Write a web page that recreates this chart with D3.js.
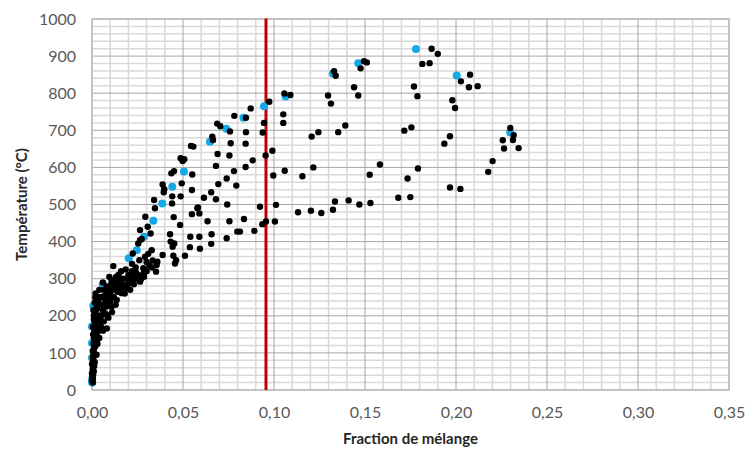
<!DOCTYPE html>
<html><head><meta charset="utf-8">
<script src="https://cdn.jsdelivr.net/npm/d3@7"></script>
<style>
html,body{margin:0;padding:0;background:#fff;}
svg{display:block;font-family:"Lato","Open Sans",sans-serif;}
</style></head>
<body><svg id="c" width="749" height="449"></svg>
<script>
const xTicks = [0,0.05,0.10,0.15,0.20,0.25,0.30,0.35];
const yTicks = [0,100,200,300,400,500,600,700,800,900,1000];
const xTitle = "Fraction de mélange";
const yTitle = "Température (°C)";
const limitFraction = 0.0956;

const blackPoints = [
[0.1866,920],[0.190,906],[0.1815,879],[0.1855,881],[0.2027,832],[0.2077,850],[0.2071,816],[0.2119,819],
[0.1495,886],[0.151,883],[0.1476,867],[0.133,859],[0.1339,847],[0.1057,799],[0.109,795],[0.0974,777],
[0.0846,734],[0.0872,759],[0.0846,695],[0.0844,664],[0.0844,601],[0.0883,619],
[0.0945,720],[0.0938,694],[0.0954,632],[0.0991,645],[0.0996,578],
[0.1051,743],[0.1051,720],[0.1059,591],[0.1156,576],[0.1207,683],[0.1244,695],[0.1216,600],
[0.1297,794],[0.1313,772],[0.1353,695],[0.1392,713],[0.144,816],[0.1463,794],
[0.1526,580],[0.1582,608],[0.1769,818],[0.1788,792],[0.1716,699],[0.1755,708],[0.1734,570],[0.1791,597],
[0.198,781],[0.1995,760],[0.1936,664],[0.1967,684],[0.1967,546],[0.2024,542],[0.2177,588],[0.2201,617],
[0.2298,706],[0.2317,687],[0.2313,674],[0.2257,673],[0.2264,651],[0.2344,652],
[0.0835,461],[0.0813,427],[0.0892,429],[0.0923,494],[0.0936,447],[0.0956,454],[0.1011,499],[0.1005,454],
[0.1132,479],[0.1203,483],[0.126,477],[0.1324,486],[0.1335,508],[0.141,511],[0.1469,500],[0.153,504],[0.1683,518],[0.1749,520],
[0.0782,739],[0.0688,718],[0.0705,711],[0.0665,674],[0.0661,683],[0.0758,697],[0.0762,665],[0.069,636],[0.0755,632],[0.0681,604],[0.078,590],
[0.0544,658],[0.0557,656],[0.0487,625],[0.0507,622],[0.0498,617],[0.0551,581],[0.0451,590],[0.0436,584],[0.0388,554],[0.0397,541],[0.0394,533],
[0.0441,522],[0.0487,522],[0.0549,539],[0.0694,555],[0.0655,533],[0.0615,518],[0.0681,514],[0.0743,500],[0.0793,551],[0.074,570],[0.0493,557],
[0.0341,512],[0.0346,490],[0.044,503],[0.0579,490],[0.0549,474],[0.059,476],[0.0635,455],[0.0755,455],[0.0582,492],
[0.0449,466],[0.0484,445],[0.0293,467],[0.0306,440],[0.0322,422],[0.0429,420],[0.0432,400],[0.0452,395],[0.0443,386],[0.054,413],[0.059,413],
[0.0657,420],[0.0655,394],[0.0538,385],[0.0593,381],[0.074,409],[0.0798,427],
[0.0273,407],[0.0254,395],[0.0224,368],[0.0309,367],[0.0333,349],[0.0359,346],[0.0388,364],[0.0447,362],[0.0462,350],[0.0511,362],[0.0456,341],
[0.0352,319],[0.0282,328],[0.0242,316],[0.0218,305],[0.0286,305],[0.0264,292],
[0.0264,431],[0.0264,404],[0.0328,377],[0.0291,359],[0.0355,337],[0.0254,310],[0.0209,292],
[0.0117,334],[0.0145,310],[0.0108,296],[0.0081,279],[0.0062,252],[0.0035,238],[0.0181,279],[0.0218,288],[0.0163,261],[0.0136,243],
[0.0108,225],[0.0081,202],[0.0081,166],[0.0044,189],[0.0026,153],[0.0016,117],[0.0007,81],[0.0,45],[0.0095,305],[0.0132,305],
[0.0126,270],[0.009,238],[0.0071,207],[0.0044,180],[0.0026,144],
[0.002,260],[0.004,270],[0.006,290],[0.003,220],[0.005,230],[0.007,245],[0.01,260],[0.012,285],[0.015,290],[0.017,300],
[0.02,310],[0.022,320],[0.024,330],[0.019,275],[0.016,275],[0.014,265],[0.012,250],[0.01,240],[0.008,225],[0.006,215],
[0.004,200],[0.003,175],[0.002,160],[0.001,140],[0.001,100],[0.0005,60],[0.0005,30],[0.001,200],[0.002,210],[0.0035,195],
[0.005,170],[0.0015,130],[0.001,110],[0.0005,90],[0.0,70],[0.0,35],[0.0,25],[0.001,50],[0.0015,75],[0.0025,95],
[0.003,125],[0.004,140],[0.006,160],[0.0065,185],[0.009,195],[0.011,210],[0.013,230],[0.018,260],[0.021,270],[0.023,285],
[0.027,300],[0.03,320],[0.033,330],[0.03,345],[0.026,350],[0.022,340],[0.0185,325],[0.016,320],
[0.0015,180],[0.002,190],[0.0025,230],[0.0045,250],[0.008,265],[0.011,275],[0.0135,282],[0.0065,270],
[0.0005,20],[0.0006,40],[0.0004,55],[0.0006,85],[0.0004,105],[0.0008,125],[0.0006,150],[0.0005,170],[0.001,190],
[0.0008,215],[0.0015,235],[0.0018,250],[0.0012,155],[0.0018,170],[0.002,120],[0.0012,65],[0.0035,160],[0.005,200],
[0.007,230],[0.0095,255],[0.0125,295],[0.0155,300],[0.0195,300],[0.024,300],[0.0285,315],[0.0315,335],[0.0195,285],
[0.0165,285],[0.0105,285],[0.0085,250]
];

const bluePoints = [
[0.0,20],[0.0,27],[0.0,86],[0.0,127],[0.0,171],[0.0007,227],[0.0059,285],[0.0202,355],[0.0246,377],[0.0286,413],
[0.0337,456],[0.0386,503],[0.0441,548],[0.0505,589],[0.0648,669],[0.0738,704],[0.0832,734],[0.0945,765],
[0.1064,791],[0.1324,853],[0.1463,881],[0.178,919],[0.2004,848],[0.2298,694]
];

const svg = d3.select("#c");
const m = {l:92, r:20, t:19, b:59};
const W = 749, H = 449;
const x = d3.scaleLinear().domain([0,0.35]).range([m.l, W-m.r]);
const y = d3.scaleLinear().domain([0,1000]).range([H-m.b, m.t]);

const g = svg.append("g");
const xMinor = d3.range(0, 0.3501, 0.01).filter(v => Math.abs(v/0.05 - Math.round(v/0.05)) > 1e-6);
const yMinor = d3.range(0, 1001, 20).filter(v => v % 100 !== 0);
g.selectAll(".xm").data(xMinor).join("line")
  .attr("x1", d=>x(d)).attr("x2", d=>x(d)).attr("y1", y(0)).attr("y2", y(1000))
  .attr("stroke", "#d9d9d9").attr("stroke-width", 1.5);
g.selectAll(".ym").data(yMinor).join("line")
  .attr("y1", d=>y(d)).attr("y2", d=>y(d)).attr("x1", x(0)).attr("x2", x(0.35))
  .attr("stroke", "#d9d9d9").attr("stroke-width", 1.5);
g.selectAll(".xM").data(xTicks).join("line")
  .attr("x1", d=>x(d)).attr("x2", d=>x(d)).attr("y1", y(0)).attr("y2", y(1000))
  .attr("stroke", "#a6a6a6").attr("stroke-width", 1);
g.selectAll(".yM").data(yTicks).join("line")
  .attr("y1", d=>y(d)).attr("y2", d=>y(d)).attr("x1", x(0)).attr("x2", x(0.35))
  .attr("stroke", "#a6a6a6").attr("stroke-width", 1);
g.append("rect").attr("x", x(0)).attr("y", y(1000)).attr("width", x(0.35)-x(0)).attr("height", y(0)-y(1000))
  .attr("fill","none").attr("stroke","#bfbfbf").attr("stroke-width",1.5);

const fmt = d => d3.format(".2f")(d).replace(".", ",");
const xAxis = svg.append("g").attr("transform", `translate(0,${y(0)})`)
  .call(d3.axisBottom(x).tickValues(xTicks).tickFormat(fmt).tickSize(0).tickPadding(17));
const yAxis = svg.append("g").attr("transform", `translate(${x(0)},0)`)
  .call(d3.axisLeft(y).tickValues(yTicks).tickFormat(d3.format("d")).tickSize(0).tickPadding(16));
[xAxis, yAxis].forEach(a => {
  a.select(".domain").remove();
  a.selectAll("text").attr("fill","#595959").style("font-size","16px").style("font-family","Lato, 'Open Sans', sans-serif");
});

svg.append("line").attr("x1", x(limitFraction)).attr("x2", x(limitFraction))
  .attr("y1", y(0)).attr("y2", y(1000)-0.5).attr("stroke", "#c00000").attr("stroke-width", 3);

svg.append("g").selectAll("circle").data(bluePoints).join("circle")
  .attr("cx", d=>x(d[0])).attr("cy", d=>y(d[1])).attr("r", 4).attr("fill", "#13a9e8");
svg.append("g").selectAll("circle").data(blackPoints).join("circle")
  .attr("cx", d=>x(d[0])).attr("cy", d=>y(d[1])).attr("r", 3.2).attr("fill", "#000");

svg.append("text").attr("x", (x(0)+x(0.35))/2).attr("y", 444).attr("text-anchor","middle")
  .style("font-size","15px").style("font-weight","bold").attr("fill","#262626").text(xTitle);
svg.append("text").attr("transform", `translate(27,${(y(0)+y(1000))/2}) rotate(-90)`).attr("text-anchor","middle")
  .style("font-size","15px").style("font-weight","bold").attr("fill","#262626").text(yTitle);
</script></body></html>
